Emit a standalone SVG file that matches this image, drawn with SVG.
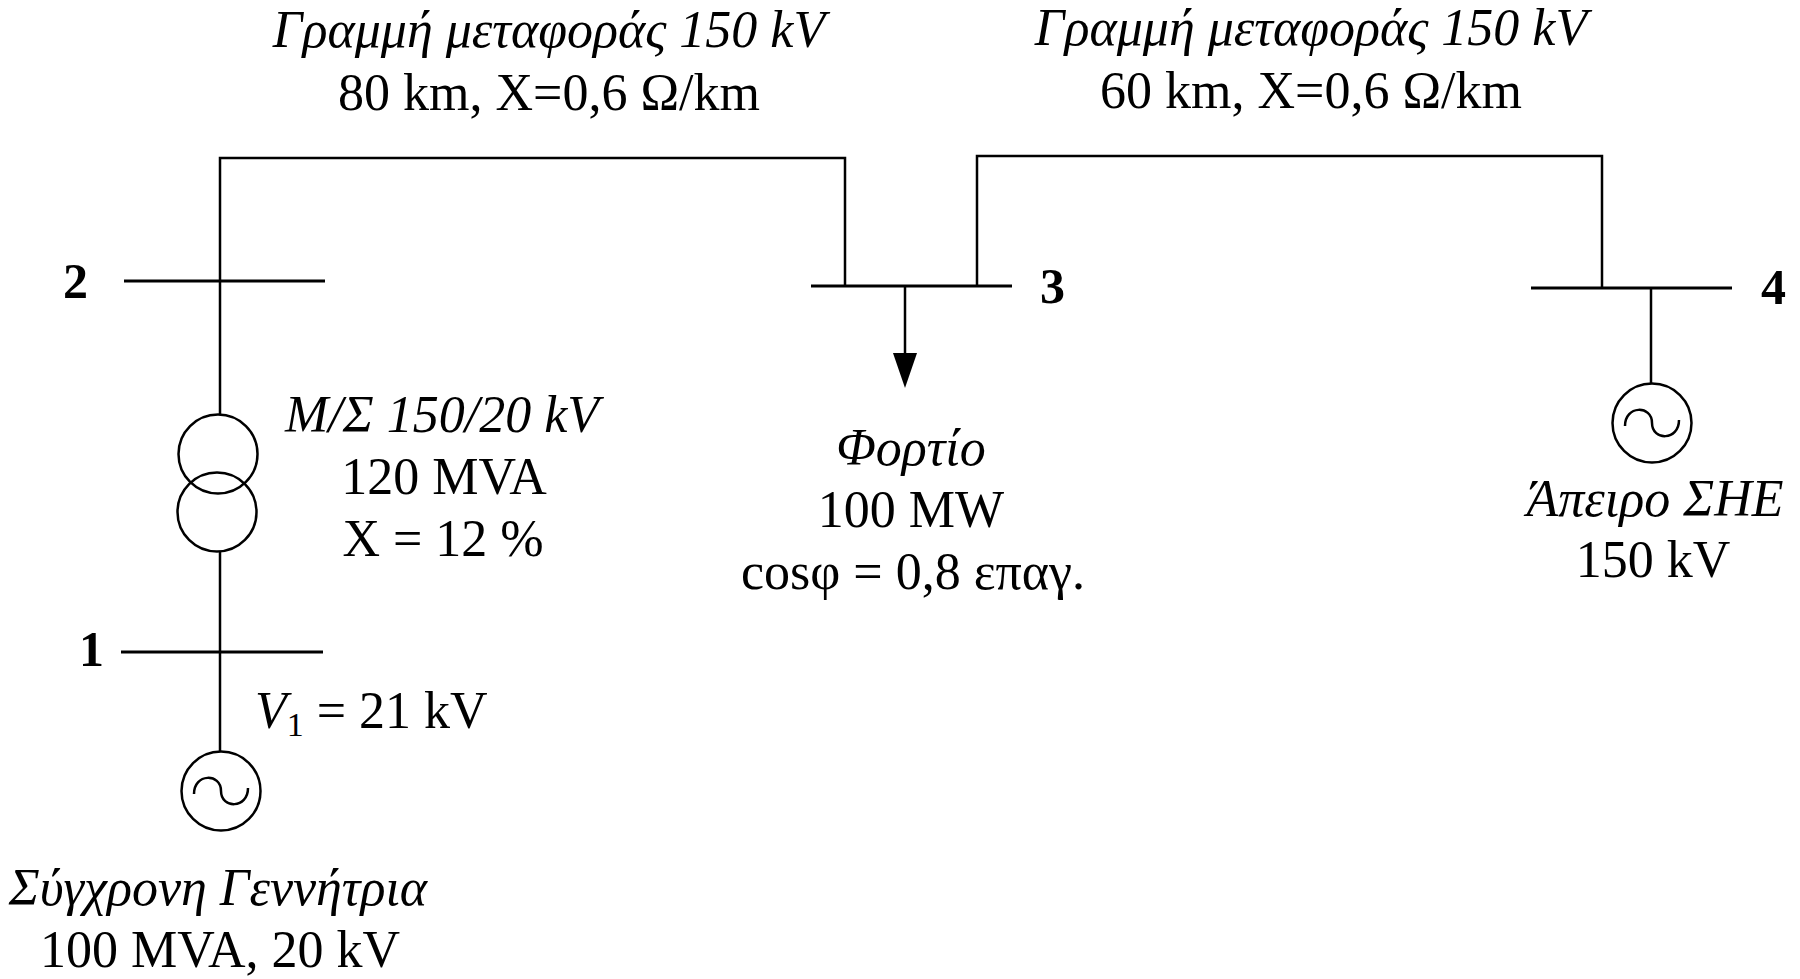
<svg xmlns="http://www.w3.org/2000/svg" width="1800" height="979" viewBox="0 0 1800 979">
<style>
text{font-family:"Liberation Serif","Times New Roman",serif;font-size:52px;fill:#000}
.it{font-style:italic}
.b{font-weight:bold;font-size:50px}
.m{text-anchor:middle}
.ln{stroke:#000;stroke-width:2.5;fill:none}
.bus{stroke:#000;stroke-width:3;fill:none}
.sym{stroke:#000;stroke-width:2.5;fill:#fff}
</style>
<defs>
<g id="gen">
<circle cx="0" cy="0" r="39.5" class="sym"/>
<path d="M-27,3 C-27,-18 0,-18 0,0 C0,18 27,18 27,-3" class="ln"/>
</g>
</defs>
<rect width="1800" height="979" fill="#fff"/>
<g id="connectors">
<path class="ln" d="M220,415 V158 H845 V286"/>
<path class="ln" d="M977,286 V156 H1602 V288"/>
<path class="ln" d="M220,551 V752"/>
<path class="ln" d="M1651,288 V384"/>
<path class="ln" d="M905,286 V355"/>
<polygon points="893,353 917,353 905,388" fill="#000"/>
</g>
<g id="bus1">
<line class="bus" x1="121" y1="652" x2="323" y2="652"/>
<text class="b" x="79" y="666">1</text>
</g>
<g id="bus2">
<line class="bus" x1="124" y1="281" x2="325" y2="281"/>
<text class="b" x="63" y="298">2</text>
</g>
<g id="bus3">
<line class="bus" x1="811" y1="286" x2="1012" y2="286"/>
<text class="b" x="1040" y="303">3</text>
</g>
<g id="bus4">
<line class="bus" x1="1531" y1="288" x2="1732" y2="288"/>
<text class="b" x="1761" y="304">4</text>
</g>
<g id="line12">
<text class="it m" x="549" y="47">Γραμμή μεταφοράς 150 kV</text>
<text class="m" x="549" y="110">80 km, X=0,6 Ω/km</text>
</g>
<g id="line34">
<text class="it m" x="1311" y="45">Γραμμή μεταφοράς 150 kV</text>
<text class="m" x="1311" y="108">60 km, X=0,6 Ω/km</text>
</g>
<g id="transformer">
<circle cx="218" cy="454" r="39.5" class="ln"/>
<circle cx="217" cy="512" r="39.5" class="ln"/>
<text class="it m" x="442" y="432">Μ/Σ 150/20 kV</text>
<text class="m" x="444" y="494">120 MVA</text>
<text class="m" x="443" y="556">X = 12 %</text>
</g>
<g id="generator">
<use href="#gen" x="221" y="791"/>
<text x="255" y="728" font-size="50"><tspan class="it">V</tspan><tspan font-size="34" dy="8">1</tspan><tspan dy="-8"> = 21 kV</tspan></text>
<text class="it m" x="218" y="905">Σύγχρονη Γεννήτρια</text>
<text class="m" x="220" y="967">100 MVA, 20 kV</text>
</g>
<g id="load">
<text class="it m" x="911" y="465">Φορτίο</text>
<text class="m" x="911" y="527">100 MW</text>
<text class="m" x="913" y="589">cosφ = 0,8 επαγ.</text>
</g>
<g id="infinite-bus">
<use href="#gen" x="1652" y="423"/>
<text class="it m" x="1655" y="516">Άπειρο ΣΗΕ</text>
<text class="m" x="1653" y="577">150 kV</text>
</g>
</svg>
